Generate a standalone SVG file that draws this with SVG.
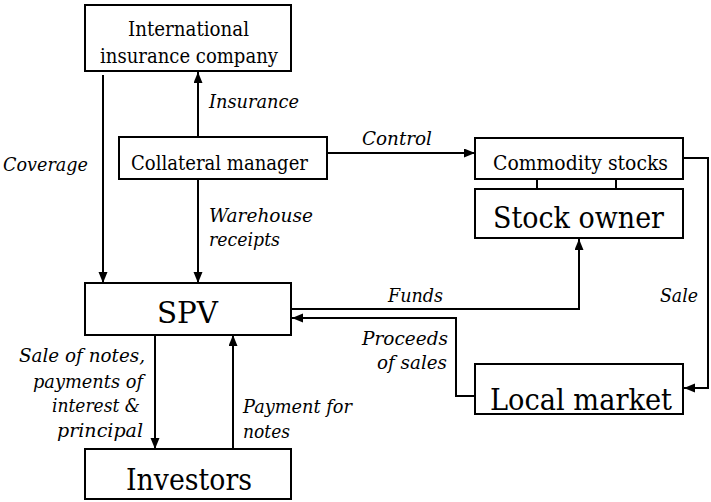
<svg xmlns="http://www.w3.org/2000/svg" width="711" height="502" viewBox="0 0 711 502">
  <style>
    .box { fill: #fff; stroke: #000; stroke-width: 2; }
    .t { font-family: 'DejaVu Serif', serif; fill: #000; text-anchor: middle; }
    .sm { font-size: 19.5px; }
    .lg { font-size: 30px; }
    .lbl { font-family: 'DejaVu Serif', serif; font-style: italic; font-size: 19px; fill: #000; }
    .end { text-anchor: end; }
    .wire { fill: none; stroke: #000; stroke-width: 2; }
    .arrow { marker-end: url(#head); }
  </style>
  <defs>
    <marker id="head" markerUnits="userSpaceOnUse" markerWidth="12" markerHeight="10" refX="11" refY="4.5" orient="auto">
      <path d="M0,0 L11,4.5 L0,9 z" fill="#000"/>
    </marker>
  </defs>

  <rect width="711" height="502" fill="#fff"/>

  <!-- flows between the parties, with their labels -->
  <g id="connectors">
    <path class="wire arrow" d="M103,75 V283"/>
    <path class="wire arrow" d="M198,137 V72"/>
    <path class="wire arrow" d="M198,179 V283"/>
    <path class="wire arrow" d="M327,153 H475"/>
    <path class="wire arrow" d="M683,158 H708 V388 H684"/>
    <path class="wire arrow" d="M291,309 H579 V239"/>
    <path class="wire arrow" d="M475,396 H456 V318 H292"/>
    <path class="wire arrow" d="M155,335 V449"/>
    <path class="wire arrow" d="M233,449 V335"/>
    <path class="wire" d="M537,179 V189 M616,179 V189"/>

    <text class="lbl" x="209" y="108" textLength="90" lengthAdjust="spacingAndGlyphs">Insurance</text>
    <text class="lbl" x="3" y="171" textLength="85" lengthAdjust="spacingAndGlyphs">Coverage</text>
    <text class="lbl" x="209" y="222" textLength="104" lengthAdjust="spacingAndGlyphs">Warehouse</text>
    <text class="lbl" x="209" y="246" textLength="71" lengthAdjust="spacingAndGlyphs">receipts</text>
    <text class="lbl" x="362" y="145" textLength="70" lengthAdjust="spacingAndGlyphs">Control</text>
    <text class="lbl" x="388" y="302" textLength="55" lengthAdjust="spacingAndGlyphs">Funds</text>
    <text class="lbl end" x="698" y="302" textLength="38" lengthAdjust="spacingAndGlyphs">Sale</text>
    <text class="lbl end" x="448" y="345" textLength="86" lengthAdjust="spacingAndGlyphs">Proceeds</text>
    <text class="lbl end" x="447" y="369" textLength="70" lengthAdjust="spacingAndGlyphs">of sales</text>
    <text class="lbl end" x="145" y="362" textLength="126" lengthAdjust="spacingAndGlyphs">Sale of notes,</text>
    <text class="lbl end" x="143" y="388" textLength="110" lengthAdjust="spacingAndGlyphs">payments of</text>
    <text class="lbl end" x="140" y="412" textLength="88" lengthAdjust="spacingAndGlyphs">interest &amp;</text>
    <text class="lbl end" x="143" y="437" textLength="86" lengthAdjust="spacingAndGlyphs">principal</text>
    <text class="lbl" x="243" y="413" textLength="109" lengthAdjust="spacingAndGlyphs">Payment for</text>
    <text class="lbl" x="243" y="438" textLength="47" lengthAdjust="spacingAndGlyphs">notes</text>
  </g>

  <g id="insurer">
    <rect class="box" x="85" y="5" width="206" height="66"/>
    <text class="t sm" x="188.5" y="36" textLength="121" lengthAdjust="spacingAndGlyphs">International</text>
    <text class="t sm" x="189" y="63" textLength="178" lengthAdjust="spacingAndGlyphs">insurance company</text>
  </g>

  <g id="collateral-manager">
    <rect class="box" x="119" y="137" width="208" height="42"/>
    <text class="t sm" x="219.5" y="170" textLength="177" lengthAdjust="spacingAndGlyphs">Collateral manager</text>
  </g>

  <g id="commodity-stocks">
    <rect class="box" x="475" y="138" width="208" height="41"/>
    <text class="t sm" x="580.5" y="170" textLength="175" lengthAdjust="spacingAndGlyphs">Commodity stocks</text>
  </g>

  <g id="stock-owner">
    <rect class="box" x="475" y="189" width="208" height="49"/>
    <text class="t lg" x="578.5" y="228" textLength="171" lengthAdjust="spacingAndGlyphs">Stock owner</text>
  </g>

  <g id="spv">
    <rect class="box" x="85" y="283" width="206" height="52"/>
    <text class="t lg" x="187.5" y="323" textLength="61" lengthAdjust="spacingAndGlyphs">SPV</text>
  </g>

  <g id="local-market">
    <rect class="box" x="475" y="364" width="208" height="50"/>
    <text class="t lg" x="581" y="410" textLength="182" lengthAdjust="spacingAndGlyphs">Local market</text>
  </g>

  <g id="investors">
    <rect class="box" x="85" y="449" width="206" height="50"/>
    <text class="t lg" x="189" y="490" textLength="126" lengthAdjust="spacingAndGlyphs">Investors</text>
  </g>
</svg>
